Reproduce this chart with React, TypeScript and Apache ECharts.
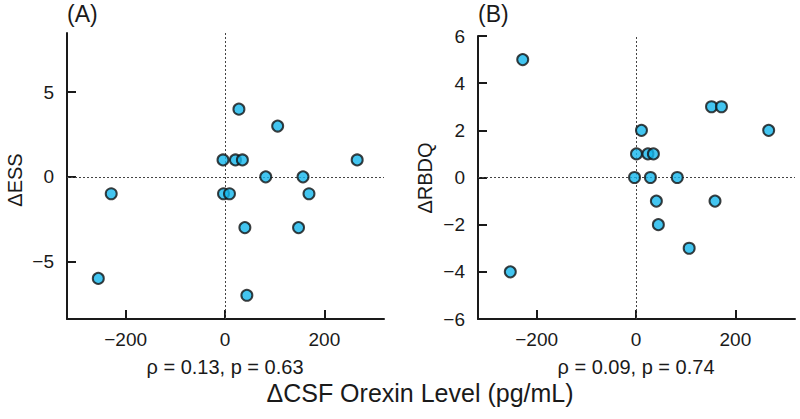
import React, { useEffect, useRef } from "react";
import * as echarts from "echarts";

// Panel A: ΔCSF orexin (pg/mL) vs ΔESS
const essX = [28, 106, -4, 21, 35, 266, 82, 157, -229, -3, 9, 169, 40, 148, -255, 44];
const essY = [4, 3, 1, 1, 1, 1, 0, 0, -1, -1, -1, -1, -3, -3, -6, -7];

// Panel B: ΔCSF orexin (pg/mL) vs ΔRBDQ
const rbdqX = [-228, -253, 152, 172, 11, 267, 1, 24, 35, -3, 29, 83, 41, 159, 45, 107];
const rbdqY = [5, -4, 3, 3, 2, 2, 1, 1, 1, 0, 0, 0, -1, -1, -2, -3];

const xTicks = [-200, 0, 200];
const essTicks = [-5, 0, 5];
const rbdqTicks = [-6, -4, -2, 0, 2, 4, 6];

const xTitle = "ΔCSF Orexin Level (pg/mL)";
const statsA = "ρ = 0.13, p = 0.63";
const statsB = "ρ = 0.09, p = 0.74";

const FONT = "Liberation Sans, Arial, sans-serif";
const INK = "#1a1a1a";

export default function App() {
  const ref = useRef<HTMLDivElement>(null);

  useEffect(() => {
    if (!ref.current) return;
    const chart = echarts.init(ref.current, undefined, { renderer: "svg" });

    const fmt = (v: number) => (v < 0 ? "\u2212" + Math.abs(v) : String(v));

    const xAxisBase = (gridIndex: number) => ({
      type: "value",
      gridIndex,
      min: -318,
      max: 320,
      axisLine: { show: true, onZero: false, lineStyle: { color: INK, width: 2 } },
      axisTick: { show: true, inside: true, length: 9, lineStyle: { color: INK, width: 2 }, customValues: xTicks },
      axisLabel: { show: true, customValues: xTicks, formatter: fmt, color: INK, fontSize: 19, fontFamily: FONT, margin: 11 },
      splitLine: { show: false },
    });

    const yAxisBase = (gridIndex: number, min: number, max: number, ticks: number[]) => ({
      type: "value",
      gridIndex,
      min,
      max,
      axisLine: { show: true, onZero: false, lineStyle: { color: INK, width: 2 } },
      axisTick: { show: true, inside: true, length: 9, lineStyle: { color: INK, width: 2 }, customValues: ticks },
      axisLabel: { show: true, customValues: ticks, formatter: fmt, color: INK, fontSize: 19, fontFamily: FONT, margin: 13 },
      splitLine: { show: false },
    });

    const refLines = {
      silent: true,
      symbol: "none",
      label: { show: false },
      lineStyle: { type: [2, 2], color: "#444", width: 1 },
      data: [{ xAxis: 0 }, { yAxis: 0 }],
      z: 1,
    };

    const markerStyle = { color: "#14b6ec", borderColor: "#111", borderWidth: 2 };

    chart.setOption({
      animation: false,
      grid: [
        { left: 67, top: 33, width: 317, height: 286 },
        { left: 478, top: 36, width: 317, height: 283 },
      ],
      xAxis: [xAxisBase(0), xAxisBase(1)],
      yAxis: [yAxisBase(0, -8.4, 8.5, essTicks), yAxisBase(1, -6, 6, rbdqTicks)],
      series: [
        {
          type: "scatter",
          xAxisIndex: 0,
          yAxisIndex: 0,
          symbol: "circle",
          symbolSize: 11,
          itemStyle: markerStyle,
          data: essX.map((x, i) => [x, essY[i]]),
          markLine: refLines,
          z: 3,
        },
        {
          type: "scatter",
          xAxisIndex: 1,
          yAxisIndex: 1,
          symbol: "circle",
          symbolSize: 11,
          itemStyle: markerStyle,
          data: rbdqX.map((x, i) => [x, rbdqY[i]]),
          markLine: refLines,
          z: 3,
        },
      ],
      graphic: [
        { type: "text", x: 67, y: 14, style: { text: "(A)", fontSize: 23, fontFamily: FONT, fill: INK, align: "left", verticalAlign: "middle" } },
        { type: "text", x: 478, y: 14, style: { text: "(B)", fontSize: 23, fontFamily: FONT, fill: INK, align: "left", verticalAlign: "middle" } },
        { type: "text", x: 15, y: 180, rotation: Math.PI / 2, style: { text: "ΔESS", fontSize: 20, fontFamily: FONT, fill: INK, align: "center", verticalAlign: "middle" } },
        { type: "text", x: 425, y: 178, rotation: Math.PI / 2, style: { text: "ΔRBDQ", fontSize: 20, fontFamily: FONT, fill: INK, align: "center", verticalAlign: "middle" } },
        { type: "text", x: 225, y: 367, style: { text: statsA, fontSize: 20, fontFamily: FONT, fill: INK, align: "center", verticalAlign: "middle" } },
        { type: "text", x: 636, y: 367, style: { text: statsB, fontSize: 20, fontFamily: FONT, fill: INK, align: "center", verticalAlign: "middle" } },
        { type: "text", x: 420, y: 393, style: { text: xTitle, fontSize: 25, fontFamily: FONT, fill: INK, align: "center", verticalAlign: "middle" } },
      ],
    });

    return () => chart.dispose();
  }, []);

  return <div ref={ref} style={{ width: 800, height: 419, position: "absolute", left: 0, top: 0, background: "#fff" }} />;
}
